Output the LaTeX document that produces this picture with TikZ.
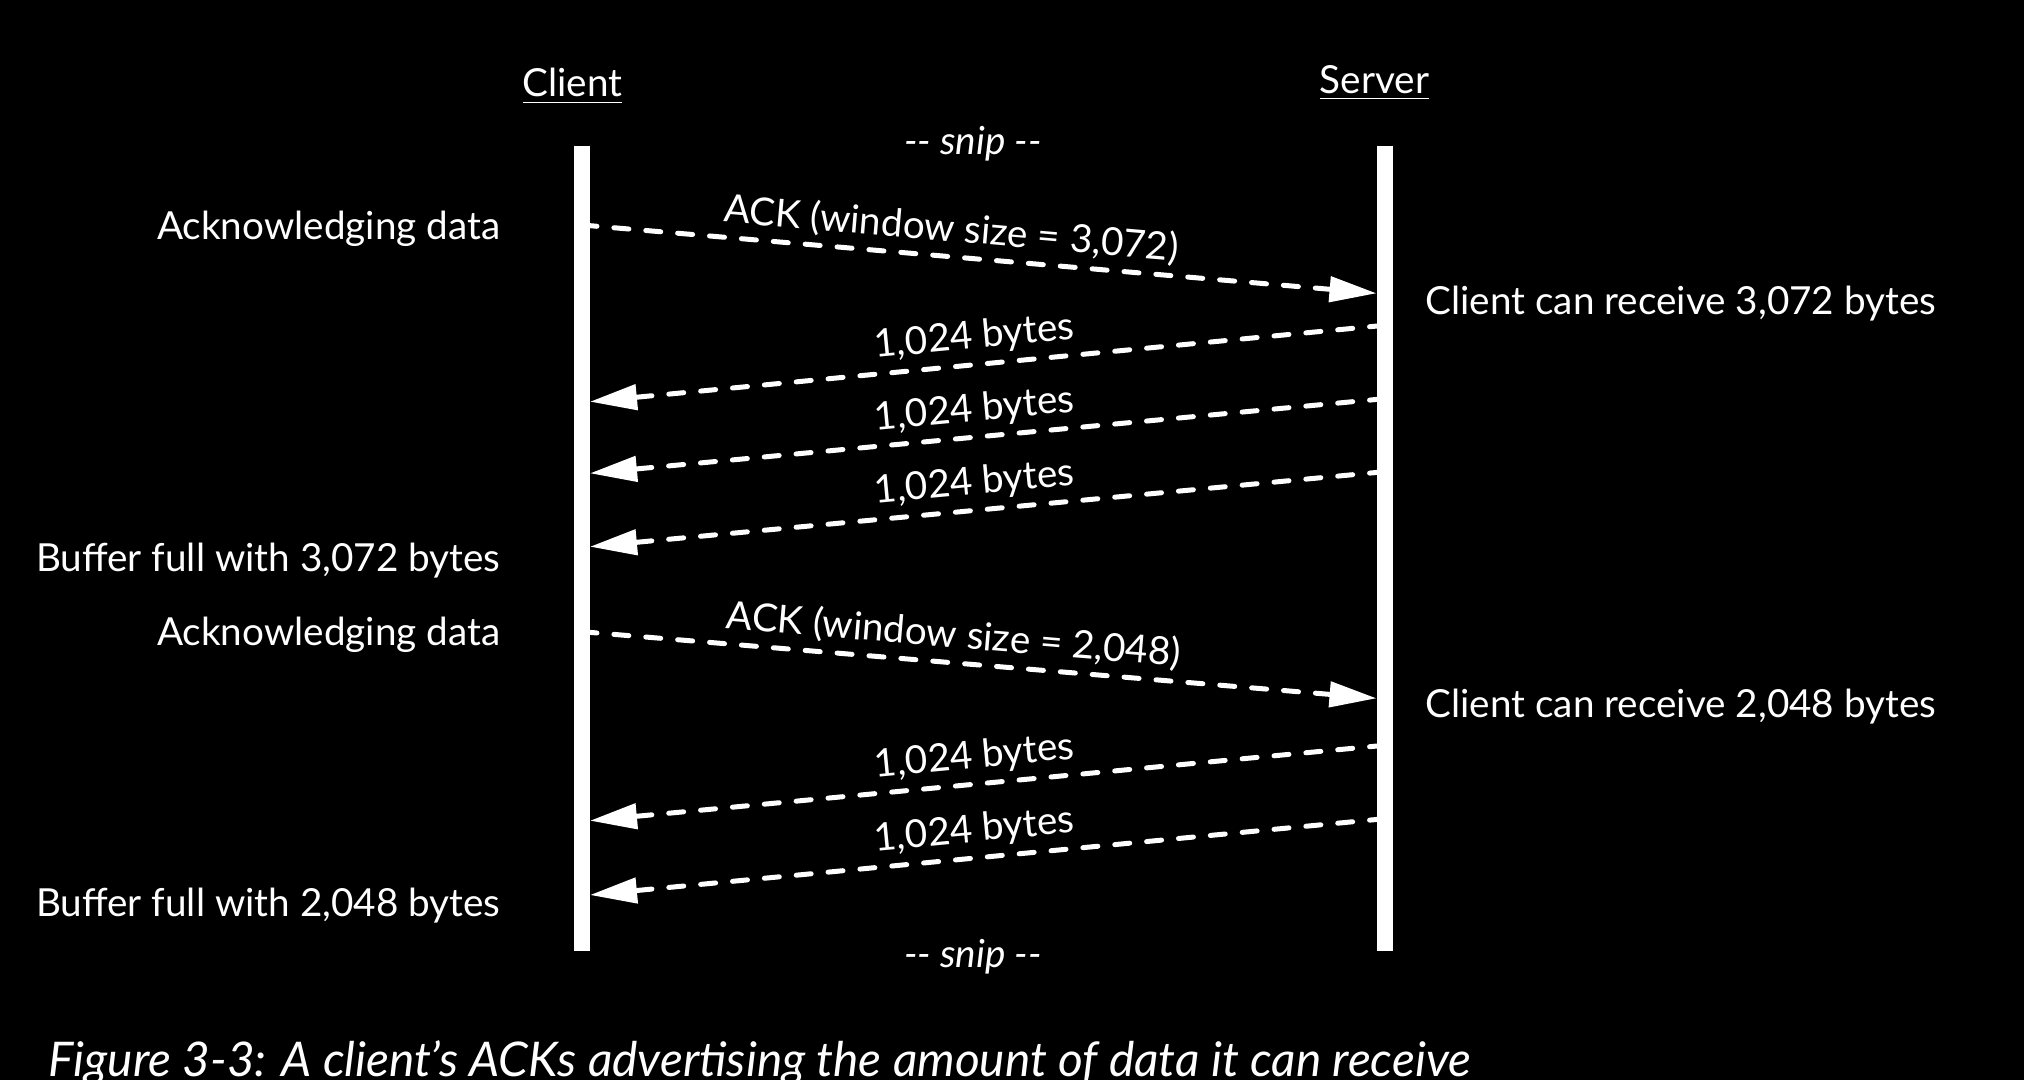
\documentclass[tikz,border=0pt]{standalone}
\usepackage{fontspec}
\setmainfont{Lato}
\usepackage{tikz}
\usetikzlibrary{arrows.meta}
\tikzset{lifeline/.style = {line width = 1.6mm}}
\tikzset{msg/.style = {line width = 0.5mm, line cap = round,
                       dash pattern = on 1.5mm off 1.7mm,
                       -{Triangle[length = 4.7mm, width = 2.5mm]}}}
\tikzset{txt/.style = {text = white, inner sep = 0, font = \fontsize{11}{13}\selectfont}}
\tikzset{msglabel/.style = {txt, sloped, above = 2pt}}

\begin{document}
\begin{tikzpicture}[color = white]
      \fill [black] (0, 0) rectangle (20.24, -10.8);
      \useasboundingbox (0, 0) rectangle (20.24, -10.8);
      \clip (0, 0) rectangle (20.24, -10.8);

      \node [txt, anchor = base] (client) at (5.725, -0.97) {\underline{Client}};
      \node [txt, anchor = base] (server) at (13.745, -0.933) {\underline{Server}};
      \node [txt, anchor = base] (sniptop) at (9.73, -1.55) {\itshape -{}- snip -{}-};
      \node [txt, anchor = base] (snipbot) at (9.73, -9.67) {\itshape -{}- snip -{}-};

      \coordinate (ctop) at (5.82, -1.46);
      \coordinate (cbot) at (5.82, -9.51);
      \coordinate (stop) at (13.845, -1.46);
      \coordinate (sbot) at (13.845, -9.51);
      \draw [lifeline] (ctop) -- (cbot);
      \draw [lifeline] (stop) -- (sbot);

      \coordinate (cack1) at (5.82, -2.25);
      \coordinate (sack1) at (13.765, -2.933);
      \coordinate (sdat1) at (13.845, -3.253);
      \coordinate (cdat1) at (5.90, -4.017);
      \coordinate (sdat2) at (13.845, -3.987);
      \coordinate (cdat2) at (5.90, -4.733);
      \coordinate (sdat3) at (13.845, -4.717);
      \coordinate (cdat3) at (5.90, -5.467);
      \coordinate (cack2) at (5.82, -6.317);
      \coordinate (sack2) at (13.765, -6.983);
      \coordinate (sdat4) at (13.845, -7.453);
      \coordinate (cdat4) at (5.90, -8.207);
      \coordinate (sdat5) at (13.845, -8.187);
      \coordinate (cdat5) at (5.90, -8.95);

      \draw [msg] (cack1) -- node [msglabel, pos = 0.462] (lack1) {ACK (window size = 3,072)} (sack1);
      \draw [msg] (sdat1) -- node [msglabel, pos = 0.513] (ldat1) {1,024 bytes} (cdat1);
      \draw [msg] (sdat2) -- node [msglabel, pos = 0.513] (ldat2) {1,024 bytes} (cdat2);
      \draw [msg] (sdat3) -- node [msglabel, pos = 0.513] (ldat3) {1,024 bytes} (cdat3);
      \draw [msg] (cack2) -- node [msglabel, pos = 0.465] (lack2) {ACK (window size = 2,048)} (sack2);
      \draw [msg] (sdat4) -- node [msglabel, pos = 0.513] (ldat4) {1,024 bytes} (cdat4);
      \draw [msg] (sdat5) -- node [msglabel, pos = 0.513] (ldat5) {1,024 bytes} (cdat5);

      \node [txt, anchor = base east] (ackdata1) at (5.01, -2.40) {Acknowledging data};
      \node [txt, anchor = base east] (bufful1) at (5.01, -5.717) {Buffer full with 3,072 bytes};
      \node [txt, anchor = base east] (ackdata2) at (5.01, -6.45) {Acknowledging data};
      \node [txt, anchor = base east] (bufful2) at (5.01, -9.16) {Buffer full with 2,048 bytes};
      \node [txt, anchor = base west] (canrecv1) at (14.25, -3.15) {Client can receive 3,072 bytes};
      \node [txt, anchor = base west] (canrecv2) at (14.25, -7.17) {Client can receive 2,048 bytes};

      \node [txt, anchor = base west, font = \fontsize{13.6}{16}\selectfont\itshape] (caption)
            at (0.48, -10.76) {Figure 3-3: A client's ACKs advertising the amount of data it can receive};
    \end{tikzpicture}
\end{document}
